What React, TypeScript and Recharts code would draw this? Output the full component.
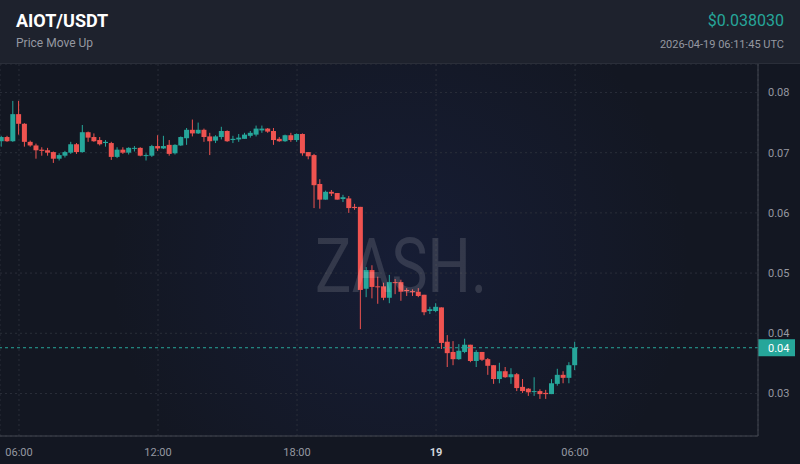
import React from 'react';
import { ComposedChart, Bar, XAxis, YAxis, CartesianGrid, ReferenceLine } from 'recharts';

// hours since 2026-04-18 00:00 UTC; 15-minute candles
const START_HOUR = 5.25;
const STEP_HOURS = 0.25;

const OPEN = [
  0.0719, 0.0726, 0.0719, 0.0764, 0.0748, 0.0718, 0.0712, 0.0705, 0.0704, 0.0701,
  0.0690, 0.0695, 0.0700, 0.0714, 0.0701, 0.0734, 0.0726, 0.0721, 0.0716, 0.0716,
  0.0693, 0.0705, 0.0700, 0.0707, 0.0708, 0.0695, 0.0695, 0.0711, 0.0707, 0.0713,
  0.0699, 0.0712, 0.0724, 0.0738, 0.0732, 0.0738, 0.0727, 0.0720, 0.0726, 0.0736,
  0.0721, 0.0722, 0.0723, 0.0728, 0.0730, 0.0737, 0.0740, 0.0736, 0.0723, 0.0719,
  0.0729, 0.0721, 0.0731, 0.0701, 0.0696, 0.0648, 0.0622, 0.0635, 0.0633, 0.0623,
  0.0624, 0.0610, 0.0610, 0.0474, 0.0505, 0.0478, 0.0478, 0.0459, 0.0485, 0.0485,
  0.0472, 0.0470, 0.0469, 0.0464, 0.0437, 0.0437, 0.0443, 0.0386, 0.0369, 0.0357,
  0.0369, 0.0381, 0.0354, 0.0369, 0.0357, 0.0347, 0.0324, 0.0337, 0.0327, 0.0332,
  0.0311, 0.0308, 0.0303, 0.0304, 0.0301, 0.0299, 0.0316, 0.0331, 0.0326, 0.0347,
];
const HIGH = [
  0.0728, 0.0728, 0.0786, 0.0786, 0.0749, 0.0720, 0.0715, 0.0709, 0.0708, 0.0702,
  0.0699, 0.0703, 0.0718, 0.0716, 0.0746, 0.0735, 0.0732, 0.0726, 0.0721, 0.0718,
  0.0709, 0.0709, 0.0709, 0.0711, 0.0709, 0.0699, 0.0713, 0.0729, 0.0728, 0.0721,
  0.0714, 0.0727, 0.0741, 0.0755, 0.0750, 0.0740, 0.0733, 0.0729, 0.0743, 0.0737,
  0.0728, 0.0731, 0.0733, 0.0736, 0.0745, 0.0745, 0.0741, 0.0741, 0.0726, 0.0730,
  0.0733, 0.0732, 0.0732, 0.0701, 0.0698, 0.0656, 0.0637, 0.0638, 0.0633, 0.0630,
  0.0628, 0.0615, 0.0610, 0.0510, 0.0513, 0.0494, 0.0484, 0.0497, 0.0490, 0.0489,
  0.0475, 0.0473, 0.0475, 0.0464, 0.0444, 0.0450, 0.0443, 0.0397, 0.0387, 0.0382,
  0.0391, 0.0381, 0.0372, 0.0369, 0.0359, 0.0347, 0.0351, 0.0344, 0.0342, 0.0334,
  0.0324, 0.0309, 0.0327, 0.0307, 0.0306, 0.0324, 0.0341, 0.0337, 0.0352, 0.0386,
];
const LOW = [
  0.0710, 0.0718, 0.0718, 0.0730, 0.0710, 0.0710, 0.0690, 0.0695, 0.0695, 0.0683,
  0.0687, 0.0692, 0.0698, 0.0698, 0.0700, 0.0718, 0.0718, 0.0712, 0.0710, 0.0688,
  0.0691, 0.0698, 0.0697, 0.0702, 0.0694, 0.0687, 0.0693, 0.0703, 0.0706, 0.0695,
  0.0697, 0.0711, 0.0713, 0.0727, 0.0731, 0.0718, 0.0696, 0.0716, 0.0722, 0.0718,
  0.0716, 0.0718, 0.0723, 0.0725, 0.0727, 0.0733, 0.0733, 0.0713, 0.0718, 0.0718,
  0.0718, 0.0718, 0.0695, 0.0689, 0.0608, 0.0607, 0.0622, 0.0628, 0.0622, 0.0618,
  0.0600, 0.0605, 0.0407, 0.0460, 0.0458, 0.0449, 0.0455, 0.0450, 0.0465, 0.0454,
  0.0462, 0.0462, 0.0460, 0.0430, 0.0432, 0.0435, 0.0374, 0.0344, 0.0347, 0.0356,
  0.0367, 0.0352, 0.0344, 0.0354, 0.0331, 0.0316, 0.0317, 0.0326, 0.0316, 0.0304,
  0.0301, 0.0296, 0.0296, 0.0291, 0.0291, 0.0299, 0.0313, 0.0317, 0.0317, 0.0339,
];
const CLOSE = [
  0.0726, 0.0719, 0.0764, 0.0748, 0.0718, 0.0712, 0.0704, 0.0703, 0.0700, 0.0690,
  0.0696, 0.0701, 0.0714, 0.0701, 0.0734, 0.0725, 0.0719, 0.0714, 0.0718, 0.0693,
  0.0705, 0.0700, 0.0708, 0.0708, 0.0695, 0.0696, 0.0711, 0.0707, 0.0711, 0.0698,
  0.0713, 0.0726, 0.0738, 0.0732, 0.0738, 0.0726, 0.0719, 0.0727, 0.0736, 0.0719,
  0.0723, 0.0725, 0.0730, 0.0733, 0.0740, 0.0740, 0.0735, 0.0721, 0.0719, 0.0729,
  0.0721, 0.0731, 0.0699, 0.0694, 0.0646, 0.0622, 0.0635, 0.0632, 0.0622, 0.0626,
  0.0608, 0.0608, 0.0472, 0.0505, 0.0477, 0.0477, 0.0459, 0.0485, 0.0484, 0.0469,
  0.0470, 0.0469, 0.0462, 0.0435, 0.0440, 0.0444, 0.0384, 0.0367, 0.0357, 0.0371,
  0.0381, 0.0354, 0.0369, 0.0356, 0.0346, 0.0324, 0.0337, 0.0327, 0.0332, 0.0309,
  0.0304, 0.0302, 0.0304, 0.0299, 0.0299, 0.0317, 0.0331, 0.0326, 0.0347, 0.0376,
];

const X_DOMAIN: [number, number] = [5.18, 37.895];
const X_TICKS = [6, 12, 18, 24, 30];
const X_TICK_LABELS = ['06:00', '12:00', '18:00', '19', '06:00'];
const Y_DOMAIN: [number, number] = [0.02294, 0.08473];
const Y_TICKS = [0.03, 0.04, 0.05, 0.06, 0.07, 0.08];
const LAST_LINE = 0.0376;

const SYMBOL = 'AIOT/USDT';
const SUBTITLE = 'Price Move Up';
const PRICE_TEXT = '$0.038030';
const TIME_TEXT = '2026-04-19 06:11:45 UTC';

const UP = '#26a69a';
const DOWN = '#ef5350';
const FONT = 'Roboto, "Noto Sans", sans-serif';

const data = OPEN.map((o, i) => ({
  t: START_HOUR + i * STEP_HOURS,
  open: o,
  high: HIGH[i],
  low: LOW[i],
  close: CLOSE[i],
  range: [LOW[i], HIGH[i]],
}));

const Candle = (props: any) => {
  const { x, y, width, height, payload } = props;
  if (!payload || x == null) return null;
  const { open, high, low, close } = payload;
  const top = Math.min(y, y + height);
  const h = Math.abs(height);
  const span = high - low || 1e-9;
  const ppu = h / span;
  const cx = x + width / 2;
  const color = close >= open ? UP : DOWN;
  const bodyTop = top + (high - Math.max(open, close)) * ppu;
  const bodyH = Math.max(1, Math.abs(open - close) * ppu);
  return (
    <g>
      <line x1={cx} x2={cx} y1={top} y2={top + Math.max(h, 1)} stroke={color} strokeWidth={1} />
      <rect x={cx - 2.5} y={bodyTop} width={5} height={bodyH} fill={color} />
    </g>
  );
};

const XTick = (props: any) => {
  const { x, y, payload } = props;
  const idx = X_TICKS.indexOf(payload.value);
  const label = idx >= 0 ? X_TICK_LABELS[idx] : '';
  const isDay = label === '19';
  return (
    <text x={x} y={y + 12} textAnchor="middle" fontSize={11} fontFamily={FONT}
      fill={isDay ? '#d1d4dc' : '#9598a1'} fontWeight={isDay ? 700 : 400}>
      {label}
    </text>
  );
};

const PriceTag = (props: any) => {
  const vb = props.viewBox || {};
  const ax = (vb.x || 0) + (vb.width || 0);
  const yy = vb.y || 0;
  return (
    <g>
      <rect x={ax} y={yy - 8.5} width={37} height={17} fill={UP} />
      <text x={ax + 10} y={yy + 4} fontSize={11} fontFamily={FONT} fill="#ffffff">
        {LAST_LINE.toFixed(2)}
      </text>
    </g>
  );
};

export default function App() {
  return (
    <div style={{ position: 'absolute', left: 0, top: 0, width: 800, height: 464, background: '#131722', overflow: 'hidden', fontFamily: FONT }}>
      <div style={{ position: 'absolute', left: 0, top: 0, width: 800, height: 63, background: '#1e222d', borderBottom: '1px solid #2a2e39' }}>
        <div style={{ position: 'absolute', left: 16, top: 10, fontSize: 18, fontWeight: 700, color: '#ffffff' }}>{SYMBOL}</div>
        <div style={{ position: 'absolute', left: 16, top: 36, fontSize: 12, color: '#9598a1' }}>{SUBTITLE}</div>
        <div style={{ position: 'absolute', right: 16, top: 11, fontSize: 16, color: UP }}>{PRICE_TEXT}</div>
        <div style={{ position: 'absolute', right: 16, top: 38, fontSize: 11, color: '#9598a1' }}>{TIME_TEXT}</div>
      </div>
      <div style={{ position: 'absolute', left: 0, top: 64, width: 758, height: 372,
        background: 'radial-gradient(circle at 400px 200px, rgba(40,60,150,0.16) 0%, rgba(40,60,150,0.08) 35%, rgba(40,60,150,0) 65%)' }} />
      <div style={{ position: 'absolute', left: 0, top: 64 }}>
        <ComposedChart width={800} height={400} data={data} margin={{ top: 0, right: 0, bottom: 0, left: 0 }}>
          <CartesianGrid stroke="#2a2e39" strokeDasharray="2 3" />
          <XAxis dataKey="t" type="number" domain={X_DOMAIN} ticks={X_TICKS} allowDataOverflow
            height={28} axisLine={{ stroke: '#434651' }} tickLine={false} tick={<XTick />} interval={0} />
          <YAxis orientation="right" type="number" domain={Y_DOMAIN} ticks={Y_TICKS} allowDataOverflow
            width={42} axisLine={{ stroke: '#434651' }} tickLine={false} tickMargin={4}
            tick={{ fill: '#9598a1', fontSize: 11, fontFamily: FONT, textAnchor: 'start' }}
            tickFormatter={(v: number) => v.toFixed(2)} />
          <ReferenceLine y={LAST_LINE} stroke={UP} strokeDasharray="3 3" strokeWidth={1} label={<PriceTag />} />
          <Bar dataKey="range" barSize={5} shape={<Candle />} isAnimationActive={false} />
        </ComposedChart>
      </div>
      <svg width={800} height={464} style={{ position: 'absolute', left: 0, top: 0, pointerEvents: 'none' }}>
        <text x={401} y={292} textAnchor="middle" fontSize={76} fontFamily={FONT} fontWeight={400}
          fill="#ffffff" fillOpacity={0.13} textLength={172} lengthAdjust="spacingAndGlyphs">ZASH.</text>
      </svg>
    </div>
  );
}
